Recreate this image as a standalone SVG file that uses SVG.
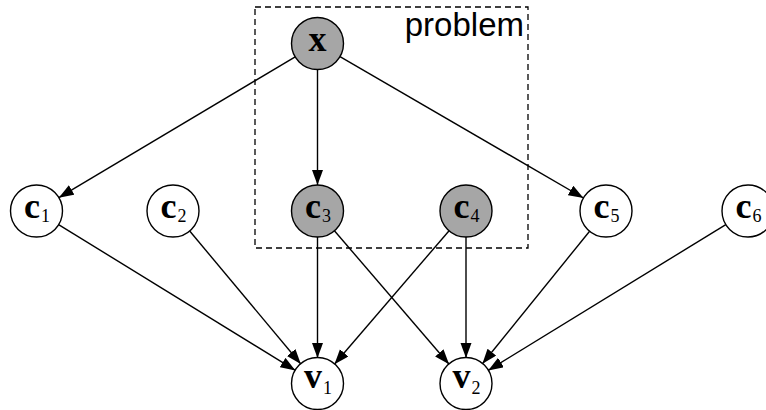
<svg xmlns="http://www.w3.org/2000/svg" width="766" height="410" viewBox="0 0 766 410">
<style>
.node{stroke:#000;stroke-width:1.4;fill:#fff}
.shaded{fill:#a6a6a6}
.lbl{font-family:"Liberation Serif","Times New Roman",serif;font-weight:bold;font-size:36px;text-anchor:middle;fill:#000}
.sub{font-weight:normal;font-size:18px}
.edge{stroke:#000;stroke-width:1.4;fill:none;marker-end:url(#arr)}
.box{stroke:#000;stroke-width:1.3;fill:none;stroke-dasharray:6,4}
.title{font-family:"Liberation Sans",Arial,sans-serif;font-size:33px;fill:#000}
</style>
<defs>
<marker id="arr" markerUnits="userSpaceOnUse" markerWidth="16" markerHeight="12" refX="15" refY="5.5" orient="auto">
<path d="M0,0 L15,5.5 L0,11 z" fill="#000"/>
</marker>
</defs>
<rect width="766" height="410" fill="#fff"/>
<g id="problem">
<rect class="box" x="255" y="7" width="273" height="241"/>
<text class="title" x="524" y="36" text-anchor="end">problem</text>
</g>
<g id="connectors">
<line class="edge" x1="295.2" y1="56.8" x2="58.8" y2="197.7"/>
<line class="edge" x1="317.5" y1="69.5" x2="317.5" y2="185"/>
<line class="edge" x1="340" y1="56.6" x2="583.5" y2="198"/>
<line class="edge" x1="58.6" y1="224.6" x2="295.4" y2="370.4"/>
<line class="edge" x1="189.7" y1="231" x2="300.8" y2="364"/>
<line class="edge" x1="317.5" y1="237" x2="317.5" y2="358"/>
<line class="edge" x1="449.1" y1="230.7" x2="334.4" y2="364.3"/>
<line class="edge" x1="334.4" y1="230.7" x2="449.1" y2="364.3"/>
<line class="edge" x1="466" y1="237" x2="466" y2="358"/>
<line class="edge" x1="589.6" y1="231.2" x2="482.4" y2="363.8"/>
<line class="edge" x1="725.8" y1="224.6" x2="488.2" y2="370.4"/>
</g>
<g id="x"><circle class="node shaded" cx="317.5" cy="43.5" r="26"/><text class="lbl" x="317.5" y="51">x</text></g>
<g id="c1"><circle class="node" cx="36.5" cy="211" r="26"/><text class="lbl" x="37" y="218">c<tspan class="sub" dx="1" dy="4">1</tspan></text></g>
<g id="c2"><circle class="node" cx="173" cy="211" r="26"/><text class="lbl" x="173.5" y="218">c<tspan class="sub" dx="1" dy="4">2</tspan></text></g>
<g id="c3"><circle class="node shaded" cx="317.5" cy="211" r="26"/><text class="lbl" x="318" y="218">c<tspan class="sub" dx="1" dy="4">3</tspan></text></g>
<g id="c4"><circle class="node shaded" cx="466" cy="211" r="26"/><text class="lbl" x="466.5" y="218">c<tspan class="sub" dx="1" dy="4">4</tspan></text></g>
<g id="c5"><circle class="node" cx="606" cy="211" r="26"/><text class="lbl" x="606.5" y="218">c<tspan class="sub" dx="1" dy="4">5</tspan></text></g>
<g id="c6"><circle class="node" cx="748" cy="211" r="26"/><text class="lbl" x="748.5" y="218">c<tspan class="sub" dx="1" dy="4">6</tspan></text></g>
<g id="v1"><circle class="node" cx="317.5" cy="383.5" r="26"/><text class="lbl" x="318" y="388">v<tspan class="sub" dx="1" dy="6">1</tspan></text></g>
<g id="v2"><circle class="node" cx="466" cy="383.5" r="26"/><text class="lbl" x="466.5" y="388">v<tspan class="sub" dx="1" dy="6">2</tspan></text></g>
</svg>
